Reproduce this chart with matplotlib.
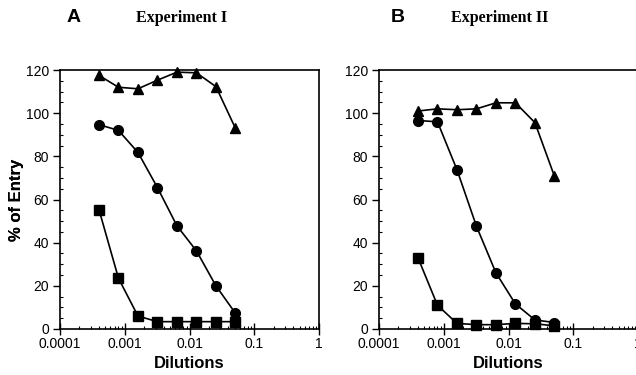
import matplotlib
matplotlib.use("Agg")
import matplotlib.pyplot as plt
from matplotlib.ticker import FixedLocator, LogLocator, NullFormatter, MultipleLocator

plt.rcParams['font.family'] = ['Liberation Sans', 'DejaVu Sans']

dilutions = [0.0004, 0.0008, 0.0016, 0.0032, 0.0064, 0.0128, 0.0256, 0.0512]

# experiment I
exp1_tri = [117.5, 112, 111.3, 115.3, 119, 118.7, 112.3, 93]
exp1_circ = [94.7, 92, 81.8, 65.5, 47.8, 36.2, 20, 7.3]
exp1_sq = [55.3, 23.5, 6, 3.4, 3.4, 3.4, 3.4, 3.4]

# experiment II
exp2_tri = [101, 102, 101.6, 102, 104.8, 104.8, 95.6, 70.8]
exp2_circ = [96.6, 96, 73.8, 47.6, 26, 11.6, 4.2, 3]
exp2_sq = [33, 11, 2.6, 2, 2, 2.6, 2.4, 1.5]

panels = [
    ("A", "Experiment I", exp1_tri, exp1_circ, exp1_sq),
    ("B", "Experiment II", exp2_tri, exp2_circ, exp2_sq),
]

xticks = [0.0001, 0.001, 0.01, 0.1, 1]
xticklabels = ["0.0001", "0.001", "0.01", "0.1", "1"]

W, H = 636, 375
fig = plt.figure(figsize=(W / 100, H / 100), dpi=100)

# pixel positions of the two panels (left edge, letter x, title x)
layout = [(60, 74, 182), (379, 398, 500)]
for (left, letter_x, title_x), (letter, title, tri, circ, sq) in zip(layout, panels):
    ax = fig.add_axes([left / W, (H - 329) / H, 259 / W, 259 / H])
    ax.set_xscale("log")
    ax.set_xlim(1e-4, 1)
    ax.set_ylim(0, 120)

    kw = dict(color="black", lw=1.2, clip_on=False)
    ax.plot(dilutions, tri, marker="^", ms=7.5, **kw)
    ax.plot(dilutions, circ, marker="o", ms=7, **kw)
    ax.plot(dilutions, sq, marker="s", ms=6.5, **kw)

    ax.xaxis.set_major_locator(FixedLocator(xticks))
    ax.set_xticklabels(xticklabels)
    ax.xaxis.set_minor_locator(LogLocator(base=10, subs=range(2, 10)))
    ax.xaxis.set_minor_formatter(NullFormatter())
    ax.yaxis.set_major_locator(MultipleLocator(20))
    ax.yaxis.set_minor_locator(MultipleLocator(5))

    ax.tick_params(which="major", direction="out", length=5, width=1,
                   labelsize=10, pad=3)
    ax.tick_params(which="minor", direction="in", length=2.5, width=0.8)
    ax.tick_params(axis="x", which="major", direction="inout", length=8, pad=2)
    for s in ax.spines.values():
        s.set_linewidth(1.2)

    ax.text((17 - left) / 259, 0.5, "% of Entry", transform=ax.transAxes,
            rotation=90, ha="center", va="center", fontsize=12,
            fontweight="bold")
    ax.text(0.5, (329 - 363) / 259, "Dilutions", transform=ax.transAxes,
            ha="center", va="center", fontsize=12, fontweight="bold")

    fig.text(letter_x / W, 1 - 18 / H, letter, ha="center", va="center",
             fontsize=14, fontweight="bold")
    fig.text(title_x / W, 1 - 18 / H, title, ha="center", va="center",
             fontsize=11.5, fontweight="bold",
             family=["Liberation Serif", "DejaVu Serif"])

fig.savefig("out.png", dpi=100)
